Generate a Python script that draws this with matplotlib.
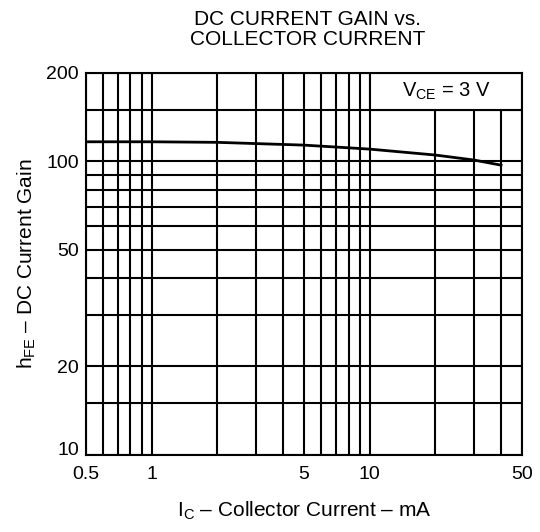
import numpy as np
import matplotlib
matplotlib.use('Agg')
import matplotlib.pyplot as plt
from matplotlib.patches import Rectangle

plt.rcParams['font.family'] = ['Liberation Sans', 'DejaVu Sans']
plt.rcParams['mathtext.fontset'] = 'custom'
plt.rcParams['mathtext.rm'] = 'Liberation Sans'

# curve
ic = [0.5, 1, 2, 5, 7, 10, 20, 30, 40]
hfe = [116.5, 116.5, 116, 113.5, 111.8, 110, 105, 101, 97]

x_major = [0.5, 1, 5, 10, 50]
x_labels = ['0.5', '1', '5', '10', '50']
x_minor = [0.6, 0.7, 0.8, 0.9, 2, 3, 4, 6, 7, 8, 9, 20, 30, 40]
y_major = [10, 20, 50, 100, 200]
y_labels = ['10', '20', '50', '100', '200']
y_minor = [15, 30, 40, 60, 70, 80, 90, 150]

fig = plt.figure(figsize=(5.4, 5.32), dpi=100)
ax = fig.add_axes([0.159, 0.145, 0.808, 0.718])
ax.set_xscale('log')
ax.set_yscale('log')
ax.set_xlim(0.5, 50)
ax.set_ylim(10, 200)

ax.set_xticks(x_major)
ax.set_xticklabels(x_labels)
ax.set_xticks(x_minor, minor=True)
ax.set_xticklabels([], minor=True)
ax.set_yticks(y_major)
ax.set_yticklabels(y_labels)
ax.set_yticks(y_minor, minor=True)
ax.set_yticklabels([], minor=True)
ax.tick_params(which='both', length=0, labelsize=14)
ax.tick_params(axis='x', pad=8)
ax.tick_params(axis='y', pad=5)
# bottom "10" sits above the corner so it clears "0.5"
for lab in ax.get_yticklabels():
    if lab.get_text() == '10':
        lab.set_verticalalignment('baseline')

ax.set_axisbelow(True)
ax.grid(which='both', color='black', linewidth=1.5)
for s in ax.spines.values():
    s.set_linewidth(1.5)

# condition box in the upper right covers the grid
box = Rectangle((10, 150), 40, 50, facecolor='white', edgecolor='black',
                linewidth=1.5, zorder=1.5)
ax.add_patch(box)
ax.text(np.sqrt(10 * 50), np.sqrt(150 * 200), r'V$_{\mathrm{CE}}$ = 3 V',
        ha='center', va='center', fontsize=14.5, zorder=3)

ax.plot(ic, hfe, color='black', linewidth=2, zorder=3)

ax.set_xlabel(r'I$_{\mathrm{C}}$ – Collector Current – mA', fontsize=15, labelpad=12)
ax.set_ylabel(r'h$_{\mathrm{FE}}$ – DC Current Gain', fontsize=15, labelpad=6)
fig.text(0.569, 0.944, 'DC CURRENT GAIN vs.\nCOLLECTOR CURRENT', ha='center',
         va='center', fontsize=15, linespacing=1.05)

fig.savefig('out.png', dpi=100)
